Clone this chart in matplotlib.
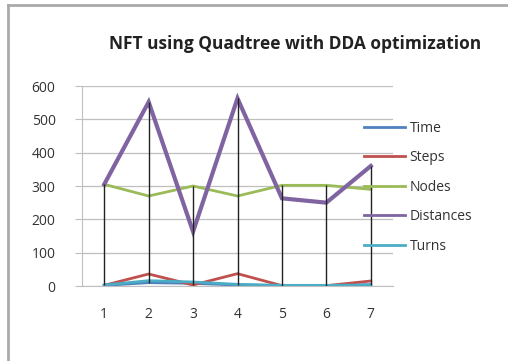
import matplotlib
matplotlib.use("Agg")
import matplotlib.pyplot as plt
import numpy as np

categories = ["1", "2", "3", "4", "5", "6", "7"]
time_vals = [2, 10, 8, 3, 1, 1, 4]
steps_vals = [2, 36, 3, 37, 1, 1, 15]
nodes_vals = [305, 270, 300, 270, 302, 302, 290]
distances_vals = [305, 552, 163, 563, 263, 250, 360]
turns_vals = [3, 16, 12, 5, 2, 2, 3]

series = [
    ("Time", time_vals, "#4F81BD", 2.0),
    ("Steps", steps_vals, "#C0504D", 2.0),
    ("Nodes", nodes_vals, "#9BBB59", 2.0),
    ("Distances", distances_vals, "#8064A2", 3.0),
    ("Turns", turns_vals, "#4BACC6", 2.0),
]

plt.rcParams['font.family'] = ['Open Sans', 'DejaVu Sans']

fig = plt.figure(figsize=(5.08, 3.61), dpi=100)
ax = fig.add_axes([82/508, 1-286/361, (393-82)/508, 200/361])

x = np.arange(len(categories))
allv = np.array([time_vals, steps_vals, nodes_vals, distances_vals, turns_vals])
ax.vlines(x, allv.min(axis=0), allv.max(axis=0), colors="#222222", linewidth=1.0, zorder=3)

handles = []
for name, vals, col, lw in series:
    h, = ax.plot(x, vals, color=col, linewidth=lw, label=name, zorder=2, solid_joinstyle="miter")
    handles.append(h)

ax.set_xlim(-0.5, len(categories) - 0.5)
ax.set_ylim(0, 600)
ax.set_yticks(range(0, 601, 100))
ax.set_xticks(x)
ax.set_xticklabels(categories)
ax.grid(axis="y", color="#BFBFBF", linewidth=0.9, zorder=0)
for s in ["top", "right"]:
    ax.spines[s].set_visible(False)
ax.spines["left"].set_color("#BFBFBF")
ax.spines["bottom"].set_color("#BFBFBF")
ax.tick_params(axis="y", length=5, color="#BFBFBF", pad=14, labelsize=10, labelcolor="#333333")
ax.tick_params(axis="x", length=0, pad=15, labelsize=10, labelcolor="#333333")

leg = fig.legend(handles=handles, loc="upper left", bbox_to_anchor=(358/508, 1-115/361),
                 frameon=False, fontsize=10, handlelength=3.0, handletextpad=0.3,
                 labelspacing=1.05, borderaxespad=0)
for t in leg.get_texts():
    t.set_color("#333333")
for lh in leg.get_lines():
    lh.set_linewidth(2.0)

fig.text(295/508, 1-44/361, "NFT using Quadtree with DDA optimization", ha="center", va="center",
         fontsize=12.5, fontweight="bold", color="#222222")

# chart border (left and top)
fig.add_artist(plt.Line2D([8/508, 8/508], [0, 1-5/361], color="#AAAAAA", linewidth=2, transform=fig.transFigure))
fig.add_artist(plt.Line2D([8/508, 1], [1-5/361, 1-5/361], color="#AAAAAA", linewidth=2, transform=fig.transFigure))

fig.savefig("out.png", dpi=100)
